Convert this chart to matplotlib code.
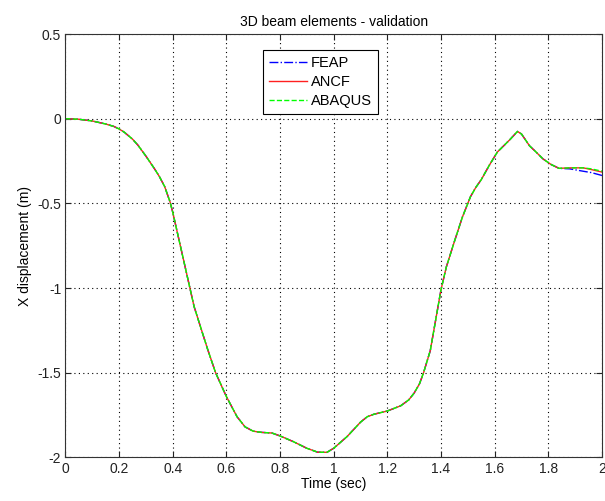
import matplotlib
matplotlib.use('Agg')
import matplotlib.pyplot as plt

# tempo (s) e deslocamento em X (m)
t = [0.00, 0.05, 0.10, 0.15, 0.18, 0.20, 0.22, 0.25, 0.27, 0.30, 0.33, 0.35,
     0.37, 0.39, 0.40, 0.42, 0.45, 0.48, 0.51, 0.53, 0.56, 0.60, 0.64, 0.67,
     0.70, 0.73, 0.77, 0.80, 0.85, 0.90, 0.94, 0.975, 1.00, 1.05, 1.10, 1.125,
     1.15, 1.20, 1.25, 1.28, 1.30, 1.32, 1.335, 1.36, 1.38, 1.40, 1.42, 1.45,
     1.48, 1.51, 1.53, 1.55, 1.58, 1.61, 1.64, 1.66, 1.685, 1.70, 1.73, 1.75,
     1.78, 1.81, 1.84, 1.88, 1.93, 1.96, 2.00]

ancf = [0.000, -0.003, -0.013, -0.031, -0.045, -0.060, -0.080, -0.120, -0.155,
        -0.220, -0.290, -0.340, -0.400, -0.490, -0.550, -0.690, -0.900, -1.110,
        -1.260, -1.360, -1.500, -1.640, -1.760, -1.820, -1.845, -1.852, -1.856,
        -1.873, -1.907, -1.946, -1.969, -1.970, -1.946, -1.877, -1.792, -1.760,
        -1.745, -1.726, -1.695, -1.660, -1.620, -1.565, -1.500, -1.370, -1.190,
        -1.010, -0.875, -0.725, -0.580, -0.460, -0.405, -0.360, -0.275, -0.197,
        -0.150, -0.118, -0.075, -0.090, -0.160, -0.190, -0.237, -0.270, -0.293,
        -0.290, -0.290, -0.300, -0.315]

feap = ancf[:63] + [-0.296, -0.310, -0.318, -0.335]

abaqus = ancf[:65] + [-0.296, -0.310]

fig = plt.figure(figsize=(6.05, 5.01), dpi=100)
ax = fig.add_axes([0.108, 0.087, 0.887, 0.845])

plt.rcParams['font.family'] = ['Liberation Sans', 'DejaVu Sans']

ax.plot(t, feap, color='#0000ff', linestyle='-.', linewidth=1.0, label='FEAP')
ax.plot(t, ancf, color='#ff2020', linestyle='-', linewidth=1.0, label='ANCF')
ax.plot(t, abaqus, color='#00ff00', linestyle='--', linewidth=1.0, label='ABAQUS')

ax.set_xlim(0, 2)
ax.set_ylim(-2, 0.5)
ax.set_xticks([0, 0.2, 0.4, 0.6, 0.8, 1, 1.2, 1.4, 1.6, 1.8, 2])
ax.set_xticklabels(['0', '0.2', '0.4', '0.6', '0.8', '1', '1.2', '1.4', '1.6', '1.8', '2'],
                   family='Liberation Sans')
ax.set_yticks([-2, -1.5, -1, -0.5, 0, 0.5])
ax.set_yticklabels(['-2', '-1.5', '-1', '-0.5', '0', '0.5'], family='Liberation Sans')
ax.tick_params(direction='in', top=True, right=True, length=4, width=0.8,
               labelsize=10, colors='#222222', pad=3)
ax.grid(True, linestyle=(0, (1, 3)), color='black', linewidth=0.8)
for s in ax.spines.values():
    s.set_color('#333333')
    s.set_linewidth(0.8)

ax.set_title('3D beam elements - validation', fontsize=10, family='Liberation Sans', pad=6)
ax.set_xlabel('Time (sec)', fontsize=10, family='Liberation Sans', labelpad=1)
ax.set_ylabel('X displacement (m)', fontsize=10, family='Liberation Sans', labelpad=4)

leg = ax.legend(loc='upper left', bbox_to_anchor=(0.368, 0.962), borderaxespad=0,
                fancybox=False, edgecolor='black', framealpha=1,
                prop={'family': 'Liberation Sans', 'size': 10.5},
                handlelength=2.6, handletextpad=0.3, labelspacing=0.35)
leg.get_frame().set_linewidth(0.8)

plt.savefig('out.png', dpi=100)
